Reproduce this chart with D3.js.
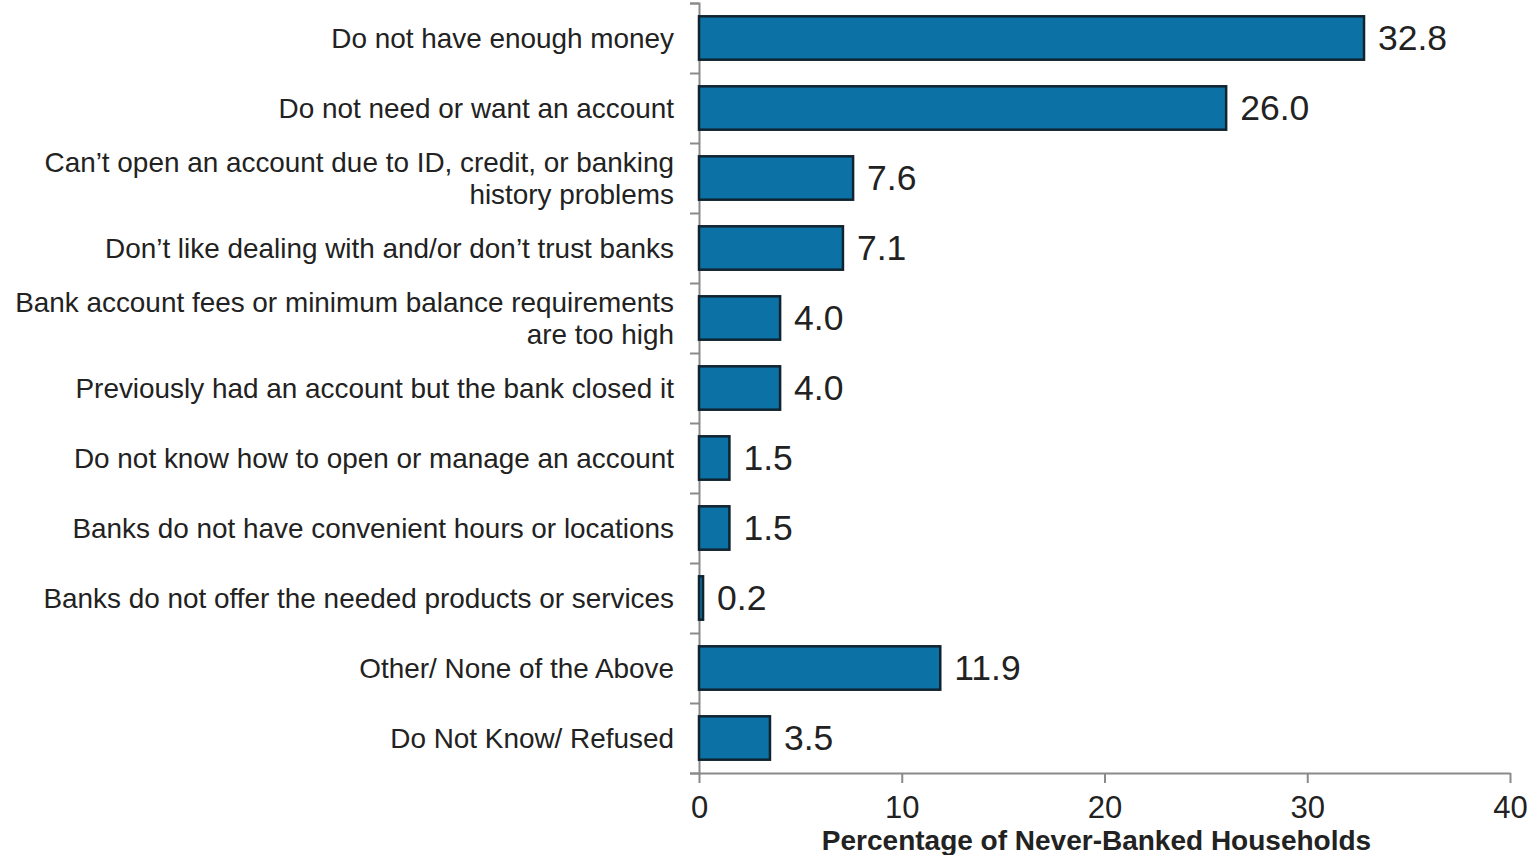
<!DOCTYPE html>
<html>
  <head>
    <title>Reasons for never having had a bank account</title>
    <script src="https://d3js.org/d3.v7.min.js"></script>
    <style>
      body { margin: 0; background: #fff; }
      text { font-family: "Liberation Sans", Arial, sans-serif; fill: #222; }
    </style>
  </head>

  <body>
    <svg width="1532" height="855"></svg>

    <script type="text/javascript">
      // categories, each label split into its lines
      var reasons = [
        ["Do not have enough money"],
        ["Do not need or want an account"],
        ["Can\u2019t open an account due to ID, credit, or banking", "history problems"],
        ["Don\u2019t like dealing with and/or don\u2019t trust banks"],
        ["Bank account fees or minimum balance requirements", "are too high"],
        ["Previously had an account but the bank closed it"],
        ["Do not know how to open or manage an account"],
        ["Banks do not have convenient hours or locations"],
        ["Banks do not offer the needed products or services"],
        ["Other/ None of the Above"],
        ["Do Not Know/ Refused"]
      ];
      var percents = [32.8, 26.0, 7.6, 7.1, 4.0, 4.0, 1.5, 1.5, 0.2, 11.9, 3.5];
      var xTicks = [0, 10, 20, 30, 40];
      var xTitle = "Percentage of Never-Banked Households";

      var rows = reasons.map(function (r, i) {
        return { id: i, lines: r, value: percents[i] };
      });

      var svg = d3.select("svg");
      var plotLeft = 699, plotRight = 1510, plotTop = 3, plotBottom = 773;

      var x = d3.scaleLinear().domain([0, 40]).range([plotLeft, plotRight]);
      var y = d3
        .scaleBand()
        .domain(rows.map(function (d) { return d.id; }))
        .range([plotTop, plotBottom])
        .paddingInner(0.38)
        .paddingOuter(0.19);

      // category boundary ticks on the left axis
      var yEdges = d3.scaleLinear().domain([0, rows.length]).range([plotTop, plotBottom]);
      var yAxis = svg
        .append("g")
        .attr("transform", "translate(" + plotLeft + ",0)")
        .call(
          d3.axisLeft(yEdges)
            .ticks(rows.length)
            .tickSize(9)
            .tickSizeOuter(9)
            .tickFormat("")
        );
      yAxis.selectAll("path, line").attr("stroke", "#8a8a8a").attr("stroke-width", 2);

      var xAxis = svg
        .append("g")
        .attr("transform", "translate(0," + plotBottom + ")")
        .call(d3.axisBottom(x).tickValues(xTicks).tickSize(10).tickSizeOuter(0).tickPadding(13));
      xAxis.selectAll("path, line").attr("stroke", "#8a8a8a").attr("stroke-width", 2);
      xAxis
        .selectAll("text")
        .style("font-family", "'Liberation Sans', Arial, sans-serif")
        .style("font-size", "31px")
        .attr("fill", "#222");

      svg
        .append("text")
        .attr("x", (plotLeft + plotRight) / 2 - 8)
        .attr("y", 850)
        .attr("text-anchor", "middle")
        .style("font-size", "28px")
        .style("font-weight", "bold")
        .text(xTitle);

      // bars
      svg
        .append("g")
        .selectAll("rect")
        .data(rows)
        .enter()
        .append("rect")
        .attr("x", x(0))
        .attr("y", function (d) { return y(d.id); })
        .attr("width", function (d) { return x(d.value) - x(0); })
        .attr("height", y.bandwidth())
        .attr("fill", "#0c72a6")
        .attr("stroke", "#10232e")
        .attr("stroke-width", 2.5);

      // value labels
      svg
        .append("g")
        .selectAll("text")
        .data(rows)
        .enter()
        .append("text")
        .attr("x", function (d) { return x(d.value) + 14; })
        .attr("y", function (d) { return y(d.id) + y.bandwidth() / 2 + 12; })
        .style("font-size", "35.5px")
        .text(function (d) { return d.value.toFixed(1); });

      // category labels
      var labels = svg
        .append("g")
        .selectAll("text")
        .data(rows)
        .enter()
        .append("text")
        .attr("text-anchor", "end")
        .style("font-size", "27.9px")
        .attr("y", function (d) {
          var mid = y(d.id) + y.bandwidth() / 2;
          return mid + 9.5 - (d.lines.length - 1) * 16;
        });

      labels
        .selectAll("tspan")
        .data(function (d) { return d.lines; })
        .enter()
        .append("tspan")
        .attr("x", 674)
        .attr("dy", function (d, i) { return i === 0 ? 0 : 32; })
        .text(function (d) { return d; });
    </script>
  </body>
</html>
